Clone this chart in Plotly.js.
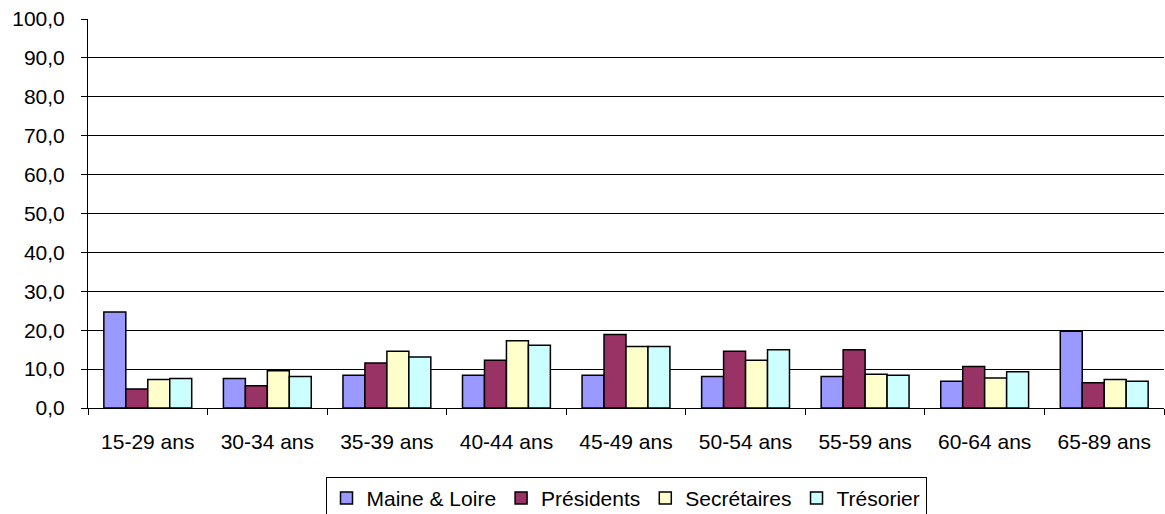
<!DOCTYPE html>
<html>
<head>
<meta charset="utf-8">
<script src="https://cdn.plot.ly/plotly-3.0.1.min.js"></script>
<style>html,body{margin:0;padding:0;background:#fff;}#chart{width:1165px;height:514px;}</style>
</head>
<body>
<div id="chart"></div>
<script>
const categories = ["15-29 ans","30-34 ans","35-39 ans","40-44 ans","45-49 ans","50-54 ans","55-59 ans","60-64 ans","65-89 ans"];
const seriesNames = ["Maine & Loire","Présidents","Secrétaires","Trésorier"];
const maineLoire  = [24.7, 7.6, 8.4, 8.4, 8.4, 8.1, 8.1, 6.9, 19.7];
const presidents  = [4.9, 5.7, 11.6, 12.3, 18.9, 14.6, 15.0, 10.7, 6.5];
const secretaires = [7.3, 9.6, 14.6, 17.3, 15.8, 12.3, 8.7, 7.7, 7.3];
const tresorier   = [7.6, 8.1, 13.1, 16.1, 15.8, 15.0, 8.4, 9.3, 6.9];
const colors = ["#9999FF","#993366","#FFFFCC","#CCFFFF"];
const values = [maineLoire, presidents, secretaires, tresorier];

const traces = values.map((v,i)=>({
  type:'bar', name: seriesNames[i], x: categories, y: v,
  marker:{color: colors[i], line:{color:'#000', width:1.5}},
  hoverinfo:'x+y'
}));

const layout = {
  width:1165, height:514,
  margin:{l:88, r:1, t:19, b:106, autoexpand:false},
  paper_bgcolor:'#fff', plot_bgcolor:'#fff',
  separators:', ',
  font:{family:'Liberation Sans, Arial, sans-serif', size:21, color:'#000'},
  barmode:'group', bargap:0.265, bargroupgap:0,
  xaxis:{
    automargin:false,
    showline:true, linecolor:'#000', linewidth:1,
    ticks:'outside', ticklen:6, tickcolor:'#000', tickson:'boundaries',
    ticklabelstandoff:15,
    showgrid:false, tickfont:{size:21}
  },
  yaxis:{
    automargin:false,
    range:[0,100], dtick:10, tickformat:'.1f',
    showline:true, linecolor:'#000', linewidth:1,
    ticks:'outside', ticklen:6, tickcolor:'#000',
    ticklabelstandoff:12,
    showgrid:true, gridcolor:'#000', gridwidth:1,
    zeroline:false, tickfont:{size:21}
  },
  legend:{
    orientation:'h', x:0.5, xanchor:'center', y:-0.177, yanchor:'top',
    bordercolor:'#000', borderwidth:1, font:{size:21},
    itemwidth:30, tracegroupgap:0
  },
  showlegend:true
};
Plotly.newPlot('chart', traces, layout, {displayModeBar:false, staticPlot:true});
</script>
</body>
</html>
